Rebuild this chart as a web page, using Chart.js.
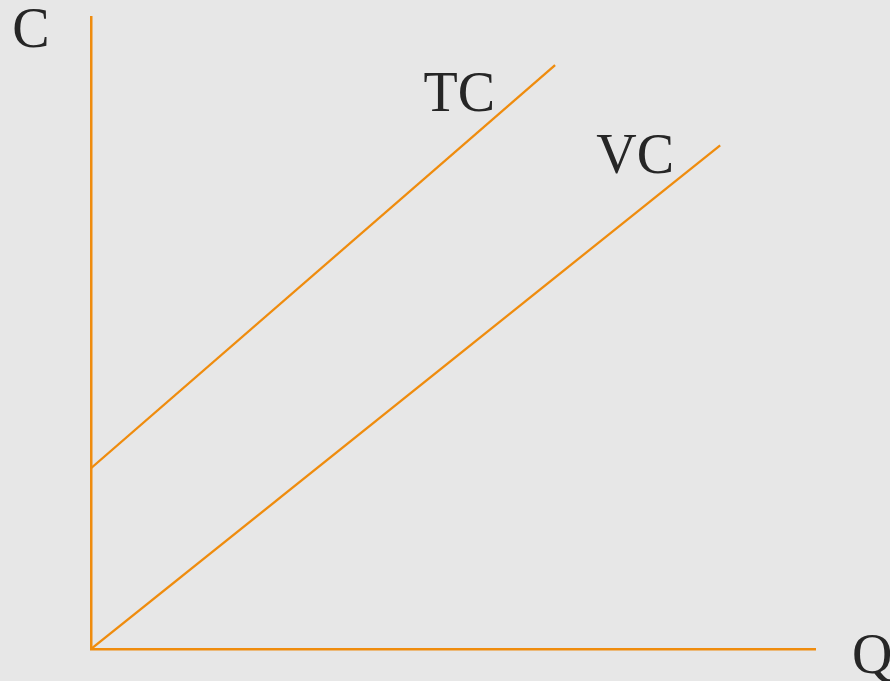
<!DOCTYPE html>
<html>
<head>
<meta charset="utf-8">
<script src="https://cdn.jsdelivr.net/npm/chart.js@4/dist/chart.umd.min.js"></script>
<style>
  html, body { margin: 0; padding: 0; background: #e7e7e7; }
  #contenedor { width: 890px; height: 681px; }
</style>
</head>
<body>
<div id="contenedor"><canvas id="graficoCostos"></canvas></div>
<script>
// Cantidad (Q) en los extremos de cada recta
const cantidadesTC = [0, 64.1];
const cantidadesVC = [0, 86.9];
// Costos (C)
const costoTotal = [28.6, 92.4];
const costoVariable = [0, 79.7];
// Etiquetas
const etiquetaEjeY = 'C';
const etiquetaEjeX = 'Q';
const nombresSeries = ['TC', 'VC'];

const naranja = '#ef8c0e';
const colorTexto = '#262626';
const fuente = '56px "Liberation Serif", "Times New Roman", serif';

function puntos(xs, ys) {
    return xs.map((x, i) => ({ x: x, y: ys[i] }));
}

/**
 * Dibuja las etiquetas de los ejes y de las curvas
 */
const pluginEtiquetas = {
    id: 'etiquetas',
    afterDraw(chart) {
        const ctx = chart.ctx;
        const area = chart.chartArea;
        const sx = chart.scales.x;
        const sy = chart.scales.y;
        ctx.save();
        ctx.font = fuente;
        ctx.fillStyle = colorTexto;
        ctx.textBaseline = 'alphabetic';

        ctx.textAlign = 'center';
        ctx.fillText(etiquetaEjeY, area.left - 60, area.top + 30);

        ctx.textAlign = 'left';
        ctx.fillText(etiquetaEjeX, area.right + 37, area.bottom + 24);

        // TC
        const tcX = sx.getPixelForValue(cantidadesTC[1]);
        const tcY = sy.getPixelForValue(costoTotal[1]);
        ctx.textAlign = 'right';
        ctx.fillText(nombresSeries[0], tcX - 60, tcY + 46);

        // VC
        const vcX = sx.getPixelForValue(cantidadesVC[1]);
        const vcY = sy.getPixelForValue(costoVariable[1]);
        ctx.fillText(nombresSeries[1], vcX - 46, vcY + 28);
        ctx.restore();
    }
};

const ctx = document.getElementById('graficoCostos').getContext('2d');
new Chart(ctx, {
    type: 'scatter',
    data: {
        datasets: [
            {
                label: nombresSeries[0],
                data: puntos(cantidadesTC, costoTotal),
                showLine: true,
                borderColor: naranja,
                borderWidth: 2.3,
                pointRadius: 0
            },
            {
                label: nombresSeries[1],
                data: puntos(cantidadesVC, costoVariable),
                showLine: true,
                borderColor: naranja,
                borderWidth: 2.3,
                pointRadius: 0
            }
        ]
    },
    options: {
        responsive: true,
        maintainAspectRatio: false,
        animation: false,
        layout: {
            padding: { left: 83, top: 17, right: 75, bottom: 24 }
        },
        plugins: {
            legend: { display: false },
            tooltip: { enabled: false }
        },
        scales: {
            x: {
                type: 'linear',
                min: 0,
                max: 100,
                grid: { display: false },
                ticks: { display: false },
                border: { display: true, color: naranja, width: 2.5 }
            },
            y: {
                type: 'linear',
                min: 0,
                max: 100,
                grid: { display: false },
                ticks: { display: false },
                border: { display: true, color: naranja, width: 2.5 }
            }
        }
    },
    plugins: [pluginEtiquetas]
});
</script>
</body>
</html>
